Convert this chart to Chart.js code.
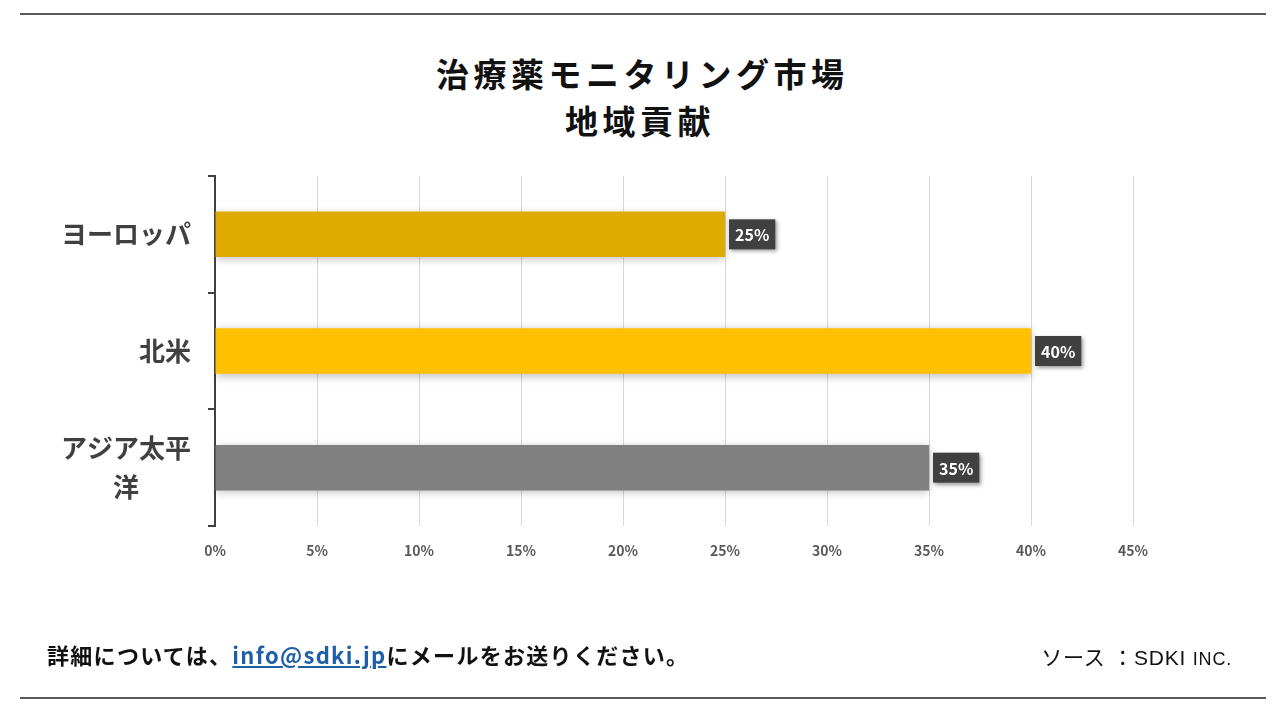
<!DOCTYPE html>
<html lang="ja">
<head>
<meta charset="utf-8">
<script src="https://cdn.jsdelivr.net/npm/chart.js@4"></script>
<style>
  body { margin: 0; background: #fff; }
  #wrap { position: relative; width: 1280px; height: 720px; overflow: hidden; font-family: "Noto Sans CJK JP", sans-serif; }
  #chart { position: absolute; left: 0; top: 0; }
  .rule { position: absolute; left: 20px; width: 1246px; height: 2px; background: #595959; }
  #title { position: absolute; left: 0; width: 1280px; top: 50px; text-align: center; font-size: 33px; font-weight: bold; line-height: 47px; color: #111; letter-spacing: 4.5px; text-indent: 4.5px; }
  #note { position: absolute; left: 47px; top: 638px; font-size: 22px; font-weight: bold; color: #111; letter-spacing: 1.3px; }
  #note a { color: #1f5fa8; text-decoration: underline; }
  #src { position: absolute; right: 48px; top: 641px; font-family: "Liberation Sans", "Noto Sans CJK JP", sans-serif; font-size: 21px; color: #111; letter-spacing: 0.8px; }
</style>
</head>
<body>
<div id="wrap">
  <div class="rule" style="top:13px"></div>
  <div id="title">治療薬モニタリング市場<br>地域貢献</div>
  <canvas id="chart" width="1280" height="720"></canvas>
  <div id="note">詳細については、<a>info@sdki.jp</a>にメールをお送りください。</div>
  <div id="src">ソース ：SDKI <span style="font-size:18px">INC.</span></div>
  <div class="rule" style="top:697px"></div>
</div>
<script>
// 地域ラベル (アジア太平洋 は2行に折り返し)
const regions = ['ヨーロッパ', '北米', ['アジア太平', '洋\u3000\u3000']];
const shares = [25, 40, 35];
const barColors = ['#e0ab00', '#ffc000', '#808080'];
const xTicks = [0, 5, 10, 15, 20, 25, 30, 35, 40, 45];

// 棒の影
const barShadow = {
    id: 'barShadow',
    beforeDatasetsDraw(chart) {
        const ctx = chart.ctx;
        ctx.save();
        ctx.shadowColor = 'rgba(0,0,0,0.28)';
        ctx.shadowBlur = 9;
        ctx.shadowOffsetX = 0;
        ctx.shadowOffsetY = 2;
    },
    afterDatasetsDraw(chart) {
        chart.ctx.restore();
    }
};

// 値ラベル (黒い箱)
const valueBoxes = {
    id: 'valueBoxes',
    afterDatasetsDraw(chart) {
        const ctx = chart.ctx;
        const meta = chart.getDatasetMeta(0);
        ctx.save();
        ctx.font = 'bold 16px "Noto Sans CJK JP", sans-serif';
        meta.data.forEach((bar, i) => {
            const text = shares[i] + '%';
            const w = ctx.measureText(text).width + 12;
            const h = 30;
            const x = bar.x + 4;
            const y = bar.y - h / 2;
            ctx.shadowColor = 'rgba(0,0,0,0.4)';
            ctx.shadowBlur = 4;
            ctx.shadowOffsetX = 2;
            ctx.shadowOffsetY = 2;
            ctx.fillStyle = '#404040';
            ctx.fillRect(x, y, w, h);
            ctx.shadowColor = 'transparent';
            ctx.fillStyle = '#ffffff';
            ctx.textAlign = 'left';
            ctx.textBaseline = 'middle';
            ctx.fillText(text, x + 6, bar.y + 1);
        });
        ctx.restore();
    }
};

const ctx = document.querySelector('#chart').getContext('2d');
new Chart(ctx, {
    type: 'bar',
    data: {
        labels: regions,
        datasets: [{
            data: shares,
            backgroundColor: barColors,
            borderWidth: 0,
            barPercentage: 0.39,
            categoryPercentage: 1
        }]
    },
    options: {
        indexAxis: 'y',
        responsive: false,
        animation: false,
        layout: { padding: { left: 0, top: 176, right: 147, bottom: 0 } },
        plugins: {
            legend: { display: false },
            tooltip: { enabled: false }
        },
        scales: {
            x: {
                min: 0,
                max: 45,
                afterFit: s => { s.height = 194; },
                afterBuildTicks: s => { s.ticks = xTicks.map(v => ({ value: v })); },
                border: { display: false },
                grid: { color: '#d9d9d9', lineWidth: 1, drawTicks: false },
                ticks: {
                    padding: 16,
                    color: '#595959',
                    font: { family: '"Noto Sans CJK JP", sans-serif', size: 14, weight: 'bold' },
                    callback: v => v + '%'
                }
            },
            y: {
                afterFit: s => { s.width = 215; },
                border: { display: true, color: '#404040', width: 2 },
                grid: { display: true, drawOnChartArea: false, offset: true, tickLength: 7, color: '#404040', lineWidth: 2 },
                ticks: {
                    padding: 17,
                    color: '#404040',
                    font: { family: '"Noto Sans CJK JP", sans-serif', size: 26, weight: 'bold', lineHeight: 1.5 }
                }
            }
        }
    },
    plugins: [barShadow, valueBoxes]
});
</script>
</body>
</html>
